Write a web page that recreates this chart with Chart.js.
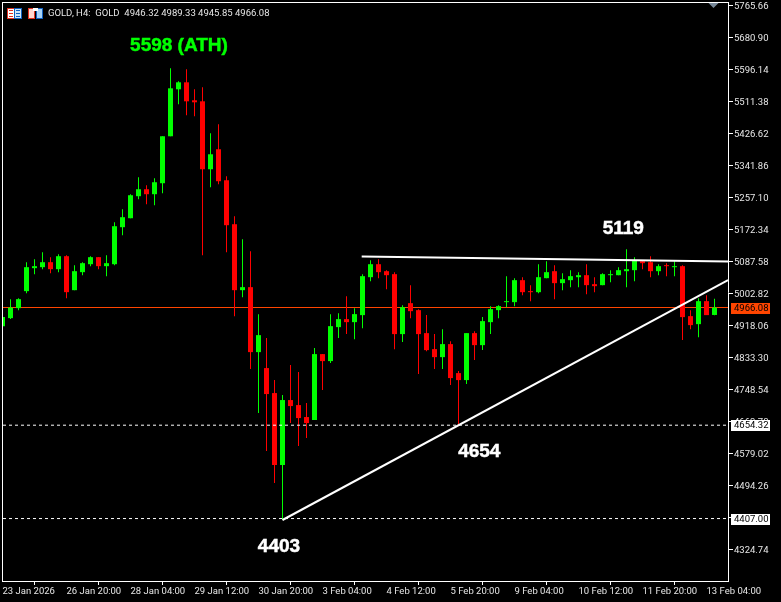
<!DOCTYPE html>
<html>
<head>
<meta charset="utf-8">
<title>GOLD, H4</title>
<style>
  html, body { margin: 0; padding: 0; background: #000; }
  canvas { display: block; }
</style>
<script src="https://cdn.jsdelivr.net/npm/chart.js@4/dist/chart.umd.min.js"></script>
</head>
<body>
<canvas id="canvas1" width="781" height="602"></canvas>
<script>
// candles, oldest first
var opens = [4916.7,4937.9,4964.4,5009.4,5070.3,5072.9,5086.1,5067.6,5102.0,5012.0,
  5059.7,5080.8,5099.4,5075.6,5080.8,5178.8,5202.6,5260.9,5279.4,5266.2,
  5295.3,5419.7,5544.1,5562.6,5515.0,5512.3,5332.3,5385.3,5303.2,5186.7,
  5012.0,5020.0,4847.9,4805.6,4739.4,4548.8,4720.9,4707.6,4675.9,4668.0,
  4842.6,4824.1,4914.1,4935.3,4927.3,4945.9,5046.4,5080.8,5062.3,5054.4,
  4895.6,4977.6,4959.1,4898.2,4855.8,4834.6,4869.1,4792.3,4773.8,4898.2,
  4866.4,4927.3,4959.1,4980.3,4980.3,5038.5,5009.4,5006.7,5043.8,5062.3,
  5030.6,5038.5,5046.4,5051.7,5027.9,5025.3,5051.7,5051.7,5062.3,5065.0,
  5088.8,5086.1,5062.3,5078.2,5072.9,5075.6,4943.2,4922.0,4982.9,4946.32];
var highs = [4940.6,4988.2,4990.8,5086.1,5094.1,5112.6,5099.4,5107.3,5104.7,5078.2,
  5086.1,5102.0,5099.4,5104.7,5192.0,5226.4,5266.2,5311.1,5290.0,5308.5,
  5419.7,5599.7,5565.3,5597.0,5544.1,5549.4,5427.6,5451.5,5313.8,5207.9,
  5147.0,5115.3,4948.5,4885.0,4773.8,4734.1,4813.5,4795.0,4713.0,4858.5,
  4842.6,4948.5,4951.1,4996.1,4964.4,5054.4,5091.4,5094.1,5065.0,5059.7,
  4972.3,5025.3,4961.7,4945.9,4895.6,4908.8,4877.0,4797.6,4898.2,4903.5,
  4940.6,4969.7,4972.3,5049.1,5043.8,5046.4,5025.3,5080.8,5088.8,5078.2,
  5057.0,5065.0,5059.7,5080.8,5046.4,5057.0,5065.0,5072.9,5120.6,5099.4,
  5091.4,5102.0,5080.8,5083.5,5088.8,5078.2,4959.1,4990.8,4998.8,4989.33];
var lows = [4916.7,4935.3,4959.1,5004.1,5054.4,5067.6,5057.0,5059.7,4990.8,5012.0,
  5051.7,5075.6,5067.6,5049.1,5078.2,5157.6,5202.6,5252.9,5239.7,5237.0,
  5268.8,5419.7,5504.4,5475.3,5472.6,5104.7,5284.7,5292.6,5112.6,4943.2,
  4993.5,4802.9,4686.5,4585.9,4501.2,4403.2,4660.0,4599.1,4620.3,4668.0,
  4747.3,4818.8,4885.0,4895.6,4882.3,4911.4,5035.9,5043.8,5014.7,4855.8,
  4874.4,4937.9,4789.7,4850.5,4802.9,4802.9,4760.6,4657.4,4763.2,4826.7,
  4853.2,4895.6,4937.9,4967.0,4969.7,4998.8,4982.9,5004.1,5043.8,4988.2,
  5012.0,5020.0,5020.0,5001.4,5006.7,5025.3,5033.2,5051.7,5020.0,5035.9,
  5067.6,5046.4,5051.7,5049.1,5049.1,4879.7,4908.8,4887.6,4945.9,4945.85];
var closes = [4940.6,4966.0,4988.2,5072.9,5075.6,5086.1,5067.6,5102.0,5006.7,5062.3,
  5083.5,5099.4,5075.6,5083.5,5181.4,5205.3,5263.5,5279.4,5266.2,5297.9,
  5419.7,5546.7,5562.6,5512.3,5509.7,5332.3,5372.0,5300.6,5184.1,5012.0,
  5020.0,4847.9,4892.9,4736.8,4548.8,4720.9,4705.0,4673.2,4660.0,4842.6,
  4824.1,4916.7,4935.3,4927.3,4948.5,5049.1,5080.8,5059.7,5051.7,4895.6,
  4967.0,4956.4,4895.6,4853.2,4834.6,4869.1,4779.1,4773.8,4898.2,4866.4,
  4930.0,4961.7,4969.7,4982.9,5038.5,5006.7,5006.7,5046.4,5059.7,5030.6,
  5041.1,5049.1,5051.7,5025.3,5022.6,5054.4,5054.4,5065.0,5067.6,5091.4,
  5083.5,5062.3,5075.6,5075.6,5075.6,4940.6,4919.4,4982.9,4945.9,4966.08];

var priceTicks = [5765.66,5680.90,5596.14,5511.38,5426.62,5341.86,5257.10,5172.34,5087.58,
  5002.82,4918.06,4833.30,4748.54,4663.78,4579.02,4494.26,4409.50,4324.74];
var timeTicks = [0,8,16,24,32,40,48,56,64,72,80,88];
var timeLabels = ["23 Jan 2026","26 Jan 20:00","28 Jan 04:00","29 Jan 12:00","30 Jan 20:00","3 Feb 04:00",
  "4 Feb 12:00","5 Feb 20:00","9 Feb 04:00","10 Feb 12:00","11 Feb 20:00","13 Feb 04:00"];

var lastPrice = 4966.08;
var level1 = 4654.32;
var level2 = 4407.00;
var upTrendX = [35, 90.69];
var upTrendY = [4403.2, 5038.9];
var topTrendX = [44.9, 90.69];
var topTrendY = [5101.2, 5087.9];

var noteTexts = ["5598 (ATH)", "5119", "4654", "4403"];
var noteX = [22.06, 77.6, 59.6, 34.56];
var noteY = [5660, 5175, 4584, 4333];
var noteColors = ["#00ff00", "#ffffff", "#ffffff", "#ffffff"];

var headerText = "GOLD, H4:  GOLD  4946.32 4989.33 4945.85 4966.08";

var UP = "#00ff00", DOWN = "#ff0000";
var FONT = "Roboto";
var TEXT = "#e6e6e6";
var xMin = 0.0625, xMax = 90.6875;

function candleColor(ctx) {
  return closes[ctx.dataIndex] >= opens[ctx.dataIndex] ? UP : DOWN;
}

var bodies = opens.map(function (o, i) { return { x: i, y: [o, closes[i]] }; });
var wicks = highs.map(function (h, i) { return { x: i, y: [lows[i], h] }; });

function flatLine(price) {
  return [{ x: xMin, y: price }, { x: xMax, y: price }];
}
function segment(xs, ys) {
  return xs.map(function (x, i) { return { x: x, y: ys[i] }; });
}
function lineSet(points, color, width, dash, order) {
  return {
    type: "line", data: points, borderColor: color, borderWidth: width, borderDash: dash,
    pointRadius: 0, order: order, tension: 0
  };
}
// the axis labels must not push the plot area in
function noPadding(scale) {
  scale.paddingTop = 0; scale.paddingBottom = 0;
  scale.paddingLeft = 0; scale.paddingRight = 0;
}

// chart frame, header, icons, notes and the price boxes on the axis
var overlay = {
  id: "overlay",
  afterDraw: function (chart) {
    var c = chart.ctx, xs = chart.scales.x, ys = chart.scales.y;
    c.save();
    c.fillStyle = "#fff";
    c.fillRect(2, 2, 727, 1);
    c.fillRect(2, 2, 1, 580);

    c.fillStyle = "#778899";
    c.beginPath();
    c.moveTo(708.5, 3); c.lineTo(718.5, 3); c.lineTo(713.5, 8);
    c.fill();

    // toolbar icons
    c.fillStyle = "#fff"; c.fillRect(8, 9, 6, 9);
    c.fillStyle = "#cfe6fb"; c.fillRect(14, 9, 7, 9);
    c.strokeStyle = "#e03020"; c.strokeRect(7.5, 8.5, 7, 10);
    c.strokeStyle = "#1060c0"; c.strokeRect(14.5, 8.5, 7, 10);
    c.fillStyle = "#e03020"; c.fillRect(9, 10, 4, 1); c.fillRect(9, 13, 4, 1); c.fillRect(9, 16, 4, 1);
    c.fillStyle = "#1060c0"; c.fillRect(16, 10, 4, 1); c.fillRect(16, 13, 4, 1); c.fillRect(16, 16, 4, 1);
    c.fillStyle = "#ffd8d0"; c.fillRect(29, 9, 6, 9);
    c.fillStyle = "#a8d4f8"; c.fillRect(36, 9, 6, 9);
    c.strokeStyle = "#e03020"; c.strokeRect(28.5, 8.5, 6, 10);
    c.strokeStyle = "#1060c0"; c.strokeRect(36.5, 8.5, 6, 10);
    c.fillStyle = "#fff"; c.fillRect(33, 8, 5, 3);

    c.textAlign = "left";
    c.textBaseline = "middle";
    c.font = "9.5px " + FONT;
    c.fillStyle = TEXT;
    c.fillText(headerText, 48, 14);

    c.font = "bold 19px 'Liberation Sans'";
    c.textAlign = "center";
    c.lineWidth = 0.5;
    noteTexts.forEach(function (t, i) {
      var nx = xs.getPixelForValue(noteX[i]), ny = ys.getPixelForValue(noteY[i]);
      c.fillStyle = noteColors[i];
      c.strokeStyle = noteColors[i];
      c.fillText(t, nx, ny);
      c.strokeText(t, nx, ny);
    });

    c.font = "9.5px " + FONT;
    c.textAlign = "left";
    [[lastPrice, "#ff4500"], [level1, "#ffffff"], [level2, "#ffffff"]].forEach(function (b) {
      var y = Math.round(ys.getPixelForValue(b[0]));
      c.fillStyle = b[1];
      c.fillRect(731, y - 5, 39, 11);
      c.fillStyle = "#000";
      c.fillText(b[0].toFixed(2), 734, y + 0.5);
    });
    c.restore();
  }
};

new Chart(document.getElementById("canvas1"), {
  type: "bar",
  data: {
    datasets: [
      lineSet(flatLine(lastPrice), "#ff4500", 1, [], 5),
      { data: wicks, backgroundColor: candleColor, barThickness: 1, grouped: false, inflateAmount: 0, borderWidth: 0, order: 4 },
      { data: bodies, backgroundColor: candleColor, barThickness: 5, grouped: false, inflateAmount: 0, borderWidth: 0, order: 3 },
      lineSet(flatLine(level1), "#ffffff", 1, [3, 3], 2),
      lineSet(flatLine(level2), "#ffffff", 1, [3, 3], 2),
      lineSet(segment(upTrendX, upTrendY), "#ffffff", 2, [], 1),
      lineSet(segment(topTrendX, topTrendY), "#ffffff", 2, [], 1)
    ]
  },
  options: {
    responsive: false,
    animation: false,
    layout: { padding: { left: 3, top: 3, right: 0, bottom: 0 } },
    plugins: { legend: { display: false }, tooltip: { enabled: false } },
    scales: {
      x: {
        type: "linear", min: xMin, max: xMax, offset: false,
        afterBuildTicks: function (scale) {
          scale.ticks = timeTicks.map(function (v) { return { value: v }; });
        },
        afterFit: function (scale) { scale.height = 21; noPadding(scale); },
        grid: { drawOnChartArea: false, color: "#fff", tickLength: 4 },
        border: { color: "#fff" },
        ticks: {
          autoSkip: false, maxRotation: 0, align: "start", padding: 1, color: TEXT,
          font: { family: FONT, size: 9.5 },
          callback: function (v) { return timeLabels[timeTicks.indexOf(v)]; }
        }
      },
      y: {
        position: "right", min: 4241.6, max: 5772.7,
        afterBuildTicks: function (scale) {
          scale.ticks = priceTicks.map(function (v) { return { value: v }; });
        },
        afterFit: function (scale) { scale.width = 53; noPadding(scale); },
        grid: { drawOnChartArea: false, color: "#fff", tickLength: 5 },
        border: { color: "#fff" },
        ticks: {
          autoSkip: false, padding: 1, labelOffset: 1, color: TEXT,
          font: { family: FONT, size: 9.5 },
          callback: function (v) { return v.toFixed(2); }
        }
      }
    }
  },
  plugins: [overlay]
});
</script>
</body>
</html>
